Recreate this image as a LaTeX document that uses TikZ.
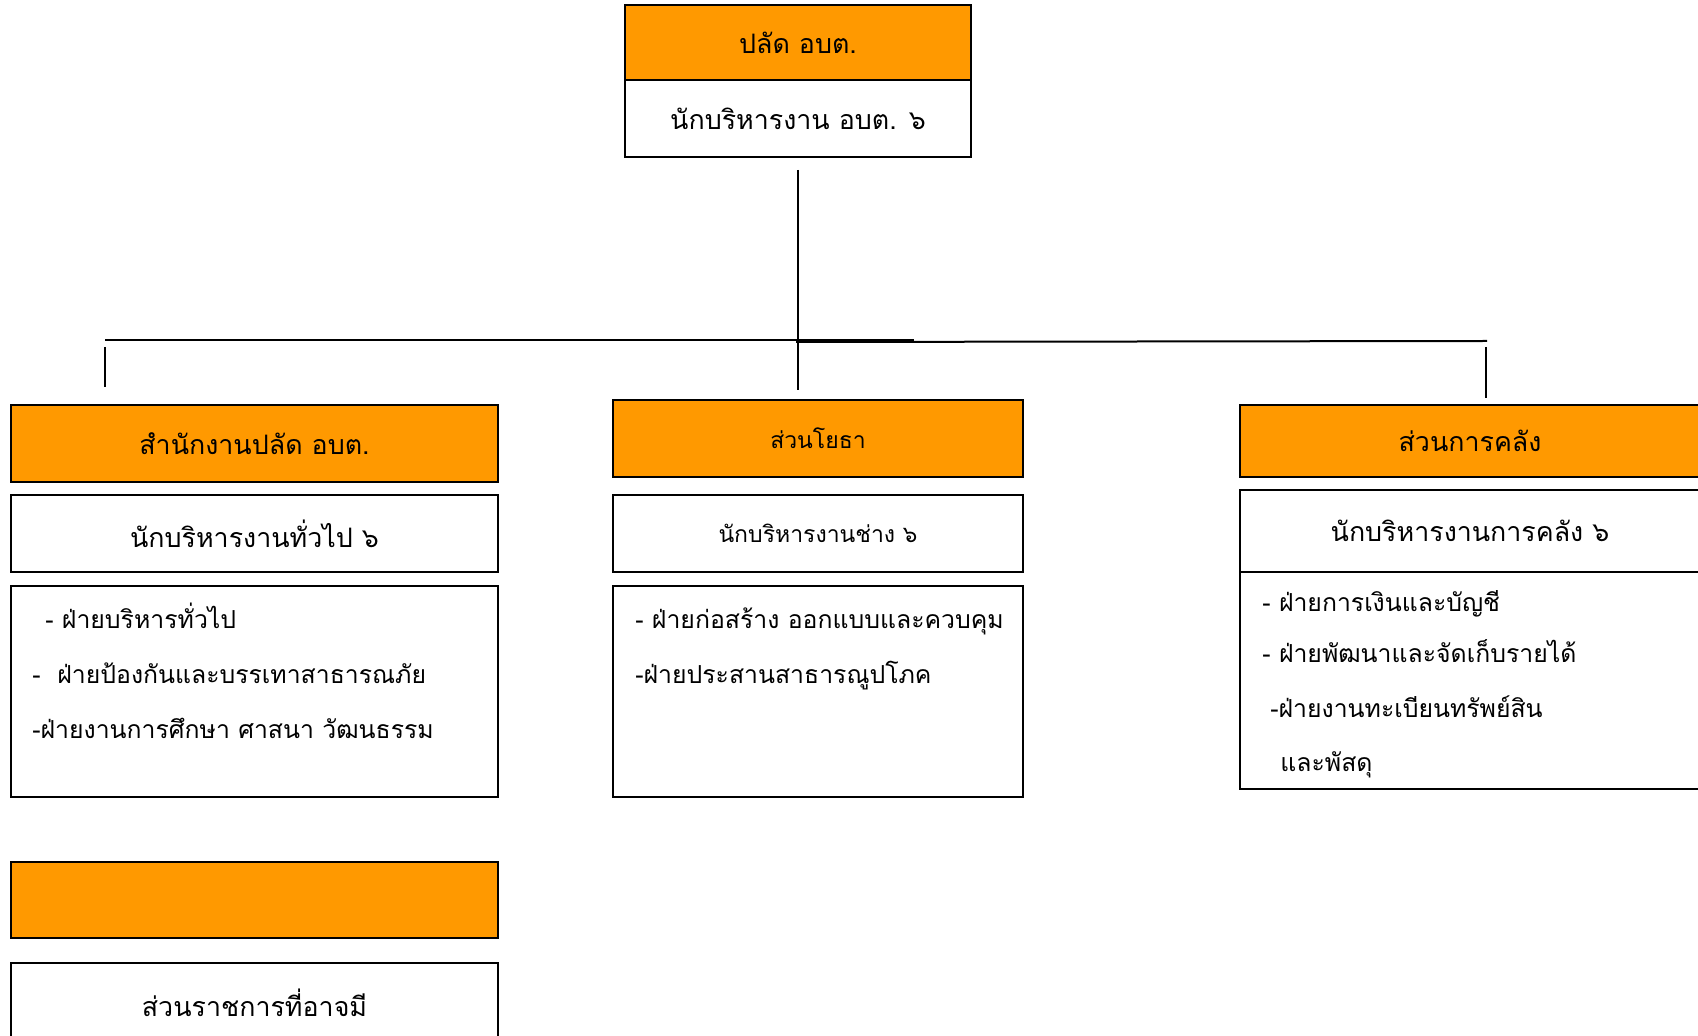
\documentclass[tikz,border=0pt]{standalone}
\usepackage{fontspec}
\newfontfamily\thaifont[Script=Thai]{Loma}
\usepackage{tikz}
\usepackage{xcolor}
\usetikzlibrary{positioning}
\definecolor{headorange}{RGB}{255,153,0}

\begin{document}
\begin{tikzpicture}[x=0.5pt, y=-0.5pt,
    box/.style={draw, line width=1pt, inner sep=0pt, font=\thaifont\fontsize{13.4}{16}\selectfont},
    head/.style={box, fill=headorange},
    smallbox/.style={font=\thaifont\fontsize{11.5}{14}\selectfont},
    leftcol/.style={minimum width=243.5pt},
    midcol/.style={minimum width=205pt},
    rightcol/.style={minimum width=230pt},
    item/.style={anchor=base west, inner sep=0pt, font=\thaifont\fontsize{12.4}{15}\selectfont}]
                        \clip (0,0) rectangle (1698,1036);
                        \fill[white] (0,0) rectangle (1698,1036);

                        % top
                        \node[head, minimum width=173pt, minimum height=37.5pt] (chief) at (798, 42.5) {ปลัด อบต.};
                        \node[box, minimum width=173pt, minimum height=38.5pt] (chiefpos) at (798, 118.5) {นักบริหารงาน อบต. ๖};

                        % left
                        \node[head, leftcol, minimum height=38.5pt] (office) at (254.5, 443.5) {สำนักงานปลัด อบต.};
                        \node[box, leftcol, minimum height=38.5pt] (officepos) at (254.5, 533.5) {นักบริหารงานทั่วไป ๖};
                        \node[box, leftcol, minimum height=105.5pt] (officelist) at (254.5, 691.5) {};
                        \node[item] (o1) at (45, 629) {- ฝ่ายบริหารทั่วไป};
                        \node[item] (o2) at (32, 684) {-~~ฝ่ายป้องกันและบรรเทาสาธารณภัย};
                        \node[item] (o3) at (32, 739) {-ฝ่ายงานการศึกษา ศาสนา วัฒนธรรม};
                        \node[head, leftcol, minimum height=38pt] (spare) at (254.5, 900) {};
                        \node[box, leftcol, minimum height=40pt] (sparepos) at (254.5, 1003) {ส่วนราชการที่อาจมี};

                        % middle
                        \node[head, midcol, smallbox, minimum height=38.5pt] (works) at (818, 438.5) {ส่วนโยธา};
                        \node[box, midcol, smallbox, minimum height=38.5pt] (workspos) at (818, 533.5) {นักบริหารงานช่าง ๖};
                        \node[box, midcol, minimum height=105.5pt] (workslist) at (818, 691.5) {};
                        \node[item] (w1) at (635, 629) {- ฝ่ายก่อสร้าง ออกแบบและควบคุม};
                        \node[item] (w2) at (635, 684) {-ฝ่ายประสานสาธารณูปโภค};

                        % right
                        \node[head, rightcol, minimum height=36pt] (finance) at (1470, 441) {ส่วนการคลัง};
                        \node[box, rightcol, minimum height=41pt] (financepos) at (1470, 531) {นักบริหารงานการคลัง ๖};
                        \node[box, rightcol, minimum height=108.5pt] (financelist) at (1470, 680.5) {};
                        \node[item] (f1) at (1262, 612) {- ฝ่ายการเงินและบัญชี};
                        \node[item] (f2) at (1262, 663) {- ฝ่ายพัฒนาและจัดเก็บรายได้};
                        \node[item] (f3) at (1270, 718) {-ฝ่ายงานทะเบียนทรัพย์สิน};
                        \node[item] (f4) at (1280, 772) {และพัสดุ};

                        % lines
                        \coordinate (trunk) at (798, 170);
                        \coordinate (fork) at (798, 390);
                        \coordinate (barleft) at (105, 340);
                        \coordinate (barmid) at (914, 340);
                        \coordinate (barjoin) at (796, 342);
                        \coordinate (barright) at (1487, 341);
                        \coordinate (officetop) at (105, 347);
                        \coordinate (officeend) at (105, 387);
                        \coordinate (financetop) at (1486, 347);
                        \coordinate (financeend) at (1486, 398);

                        \draw[line width=0.8pt]
                        (trunk) edge (fork)
                        (barleft) edge (barmid)
                        (barjoin) edge[line width=1pt] (barright)
                        (officetop) edge (officeend)
                        (financetop) edge (financeend);
                    \end{tikzpicture}
\end{document}
